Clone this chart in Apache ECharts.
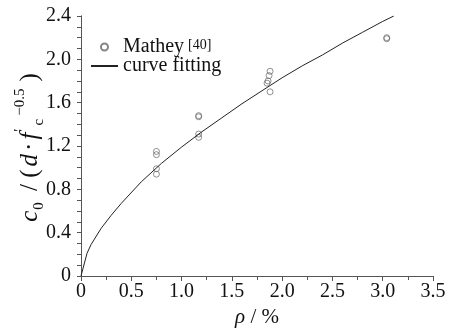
<!DOCTYPE html>
<html>
<head>
<meta charset="utf-8">
<style>
  html, body { margin: 0; padding: 0; background: #fff; }
  #chart { width: 454px; height: 328px; }
</style>
<script src="https://cdn.jsdelivr.net/npm/echarts@6/dist/echarts.min.js"></script>
</head>
<body>
<div id="chart"></div>
<script>
// Measured points (reinforcement ratio in %, normalised c0)
const matheyRho = [0.75, 0.75, 0.75, 0.75, 1.17, 1.17, 1.17, 1.17, 1.88, 1.87, 1.86, 1.85, 1.88, 3.04, 3.04];
const matheyC0  = [0.94, 0.99, 1.12, 1.15, 1.28, 1.31, 1.47, 1.48, 1.89, 1.85, 1.80, 1.78, 1.70, 2.19, 2.20];

// Fitted curve, read along its length
const fitRho = [0, 0.06, 0.1, 0.2, 0.3, 0.4, 0.6, 0.8, 1.0, 1.2, 1.4, 1.6, 1.8, 2.0, 2.2, 2.4, 2.6, 2.8, 3.0, 3.11];
const fitC0  = [0, 0.21, 0.29, 0.44, 0.56, 0.67, 0.87, 1.04, 1.19, 1.33, 1.46, 1.59, 1.71, 1.83, 1.94, 2.04, 2.15, 2.25, 2.35, 2.40];

const xTicks = [0, 0.5, 1.0, 1.5, 2.0, 2.5, 3.0, 3.5];
const yTicks = [0, 0.4, 0.8, 1.2, 1.6, 2.0, 2.4];

const FONT = '"Liberation Serif", "Times New Roman", serif';
const AXIS = '#555';
const INK = '#111';
const fmt = v => (Math.abs(v) < 1e-9 ? '0' : v.toFixed(1));

const chart = echarts.init(document.getElementById('chart'), null, { renderer: 'canvas' });

// rich-text pieces for the rotated y-axis title
const main = { fontFamily: FONT, fontSize: 25, color: INK, lineHeight: 34, verticalAlign: 'middle' };
const small = { fontFamily: FONT, fontSize: 15, color: INK, lineHeight: 34 };

chart.setOption({
  animation: false,
  backgroundColor: '#fff',
  textStyle: { fontFamily: FONT, color: INK },
  grid: { left: 81, right: 21, top: 16, bottom: 52, containLabel: false, outerBoundsMode: 'none' },
  legend: {
    orient: 'vertical',
    left: 85,
    top: 32,
    itemWidth: 27,
    itemHeight: 7,
    itemGap: -2,
    textStyle: {
      fontFamily: FONT, fontSize: 20, color: INK, lineHeight: 18,
      rich: {
        sup: { fontFamily: FONT, fontSize: 14, verticalAlign: 'top', lineHeight: 18, padding: [0, 0, 6, 4] }
      }
    },
    formatter: name => name === 'Mathey' ? 'Mathey{sup|[40]}' : name,
    data: [
      { name: 'Mathey' },
      { name: 'curve fitting', itemStyle: { opacity: 0 } }
    ]
  },
  xAxis: [
    {
      type: 'value', min: xTicks[0], max: xTicks[xTicks.length - 1], interval: 0.5,
      position: 'bottom',
      name: '{i|ρ}{n| / %}',
      nameLocation: 'middle', nameGap: 24,
      nameTextStyle: {
        rich: {
          i: { fontFamily: FONT, fontSize: 21, fontStyle: 'italic', color: INK },
          n: { fontFamily: FONT, fontSize: 21, color: INK }
        }
      },
      axisLine: { show: true, lineStyle: { color: AXIS, width: 1 } },
      axisTick: { show: true, inside: false, length: 5, lineStyle: { color: AXIS } },
      minorTick: { show: true, splitNumber: 2, length: 4, lineStyle: { color: AXIS } },
      axisLabel: { fontFamily: FONT, fontSize: 20, color: INK, margin: 6, formatter: fmt },
      splitLine: { show: false }
    },
    {
      type: 'value', min: xTicks[0], max: xTicks[xTicks.length - 1], interval: 0.25,
      position: 'top',
      axisLine: { show: true, lineStyle: { color: AXIS, width: 1 } },
      axisTick: { show: true, inside: true, length: 4, lineStyle: { color: AXIS } },
      axisLabel: { show: false },
      splitLine: { show: false }
    }
  ],
  yAxis: [
    {
      type: 'value', min: yTicks[0], max: yTicks[yTicks.length - 1], interval: 0.4,
      position: 'left',
      name: '{i|c}{sub|0}{n| / (}{i|d}{dot|·}{i|f}{pr|′}{sub|c}{sup|−0.5}{n|)}',
      nameLocation: 'middle', nameRotate: 90, nameGap: 34,
      nameMoveOverlap: false,
      nameTextStyle: {
        rich: {
          i: Object.assign({}, main, { fontStyle: 'italic' }),
          n: Object.assign({}, main, { padding: [0, 3, 0, 3] }),
          dot: Object.assign({}, main, { padding: [0, 3, 0, 3] }),
          sub: Object.assign({}, small, { verticalAlign: 'bottom', padding: [0, 2, 0, 1] }),
          sup: Object.assign({}, small, { verticalAlign: 'top', padding: [0, 4, 0, 1] }),
          pr: Object.assign({}, small, { verticalAlign: 'top', padding: [0, 2, 0, 1] })
        }
      },
      axisLine: { show: true, lineStyle: { color: AXIS, width: 1 } },
      axisTick: { show: true, inside: false, length: 4, lineStyle: { color: AXIS } },
      minorTick: { show: true, splitNumber: 4, length: 4, lineStyle: { color: AXIS } },
      axisLabel: { fontFamily: FONT, fontSize: 20, color: INK, margin: 10, formatter: fmt },
      splitLine: { show: false }
    },
    {
      type: 'value', min: yTicks[0], max: yTicks[yTicks.length - 1], interval: 0.4,
      position: 'right',
      axisLine: { show: true, lineStyle: { color: AXIS, width: 1 } },
      axisTick: { show: false },
      axisLabel: { show: false },
      splitLine: { show: false }
    }
  ],
  series: [
    {
      name: 'Mathey',
      type: 'scatter',
      xAxisIndex: 0, yAxisIndex: 0,
      symbol: 'circle',
      symbolSize: 6,
      itemStyle: { color: 'rgba(255,255,255,0)', borderColor: '#666', borderWidth: 0.9 },
      data: matheyRho.map((r, i) => [r, matheyC0[i]])
    },
    {
      name: 'curve fitting',
      type: 'line',
      xAxisIndex: 0, yAxisIndex: 0,
      showSymbol: false,
      symbol: 'none',
      smooth: false,
      clip: true,
      color: '#222',
      lineStyle: { color: '#222', width: 1 },
      data: fitRho.map((r, i) => [r, fitC0[i]])
    }
  ]
});
</script>
</body>
</html>
